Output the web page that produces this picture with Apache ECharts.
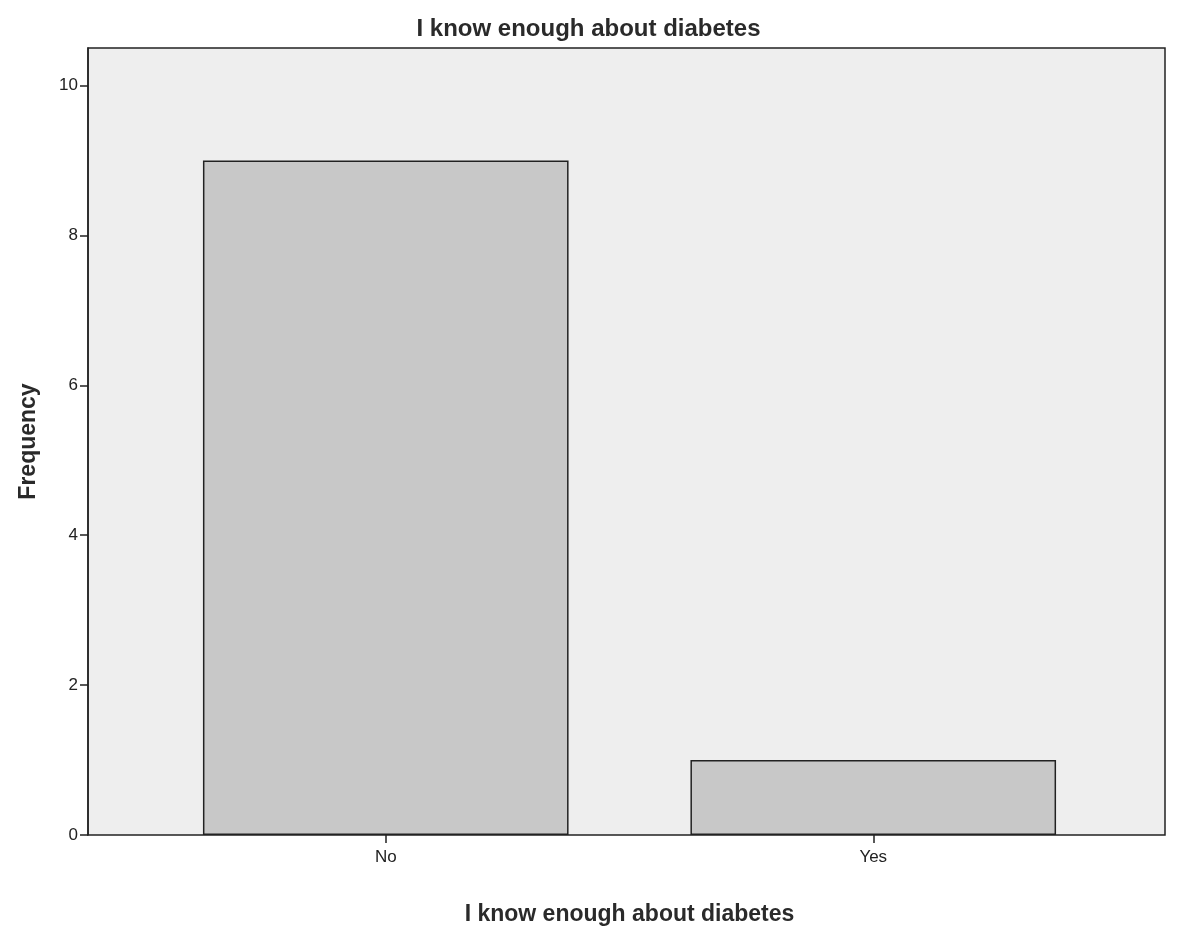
<!DOCTYPE html>
<html>
<head>
<meta charset="utf-8">
<script src="https://cdn.jsdelivr.net/npm/echarts@6/dist/echarts.min.js"></script>
<style>
html,body{margin:0;padding:0;background:#fff;}
#chart{width:1177px;height:932px;}
</style>
</head>
<body>
<div id="chart"></div>
<script>
const categories = ['No', 'Yes'];
const frequency = [9, 1];
const yTicks = [0, 2, 4, 6, 8, 10];
const titleText = 'I know enough about diabetes';
const xAxisTitle = 'I know enough about diabetes';
const yAxisTitle = 'Frequency';

const font = '"Liberation Sans", Arial, sans-serif';
const chart = echarts.init(document.getElementById('chart'));
const yMax = 10.5;
chart.setOption({
  backgroundColor: '#ffffff',
  animation: false,
  title: {
    text: titleText,
    left: 'center',
    top: 12,
    textStyle: { fontFamily: font, fontSize: 24, fontWeight: 'bold', color: '#2a2a2a' }
  },
  grid: [
    { left: 88, right: 12, top: 48, bottom: 97, outerBoundsMode: 'none', show: true, borderColor: '#222', borderWidth: 1.5, backgroundColor: '#eeeeee' },
    { left: 142, right: 60, top: 48, bottom: 97, outerBoundsMode: 'none' }
  ],
  xAxis: [
    { gridIndex: 0, type: 'category', data: [''], show: false },
    {
      gridIndex: 1, type: 'category', data: categories,
      axisLine: { show: false },
      axisTick: { show: true, alignWithLabel: true, length: 8, lineStyle: { color: '#222', width: 1.5 } },
      axisLabel: { fontFamily: font, fontSize: 17, color: '#222', margin: 14 },
      name: xAxisTitle, nameLocation: 'middle', nameGap: 68,
      nameTextStyle: { fontFamily: font, fontSize: 23, fontWeight: 'bold', color: '#2a2a2a' }
    }
  ],
  yAxis: [
    {
      gridIndex: 0, type: 'value', min: yTicks[0], max: yMax, interval: yTicks[1] - yTicks[0],
      axisLine: { show: true, lineStyle: { color: '#222', width: 1.5 } },
      axisTick: { show: true, length: 8, lineStyle: { color: '#222', width: 1.5 } },
      axisLabel: { fontFamily: font, fontSize: 17, color: '#222', margin: 10, showMaxLabel: false,
        formatter: v => (yTicks.indexOf(v) >= 0 ? String(v) : '') },
      splitLine: { show: false },
      name: yAxisTitle, nameLocation: 'middle', nameGap: 48,
      nameTextStyle: { fontFamily: font, fontSize: 23, fontWeight: 'bold', color: '#2a2a2a' }
    },
    { gridIndex: 1, type: 'value', min: yTicks[0], max: yMax, show: false, splitLine: { show: false } }
  ],
  series: [{
    type: 'bar',
    xAxisIndex: 1, yAxisIndex: 1,
    data: frequency,
    barWidth: '75%',
    itemStyle: { color: '#c8c8c8', borderColor: '#222', borderWidth: 1.5 }
  }]
});
</script>
</body>
</html>
